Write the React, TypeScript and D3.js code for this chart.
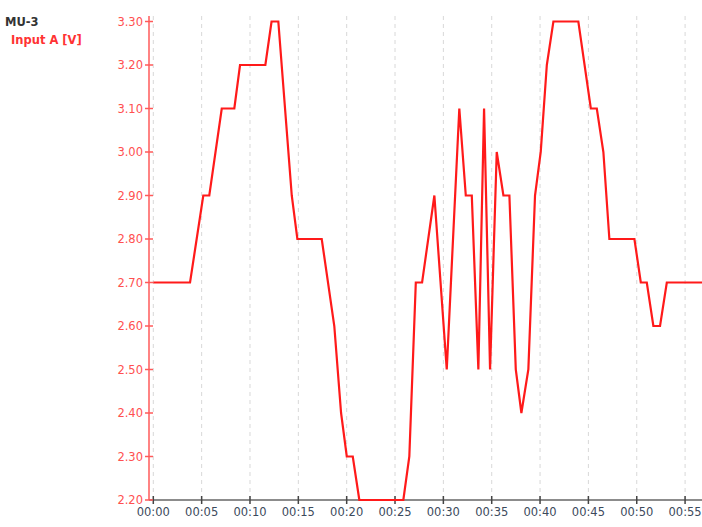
import { useEffect, useRef } from "react";
import * as d3 from "d3";

// sample times in seconds and Input A voltage
const times = [
  0, 3.8, 5.17, 5.79, 7.08, 8.38, 8.97, 11.59, 12.23, 12.93, 14.32, 14.9, 17.42,
  18.72, 19.42, 20.01, 20.63, 21.31, 25.86, 26.48, 27.15, 27.8, 29.07, 30.35,
  31.65, 32.32, 32.94, 33.62, 34.21, 34.83, 35.52, 36.21, 36.83, 37.49, 38.07,
  38.79, 39.48, 40.07, 40.7, 41.38, 43.96, 45.25, 45.87, 46.55, 47.17, 49.76,
  50.42, 51.04, 51.72, 52.41, 53.11, 57.5,
];
const volts = [
  2.7, 2.7, 2.9, 2.9, 3.1, 3.1, 3.2, 3.2, 3.3, 3.3, 2.9, 2.8, 2.8, 2.6, 2.4,
  2.3, 2.3, 2.2, 2.2, 2.3, 2.7, 2.7, 2.9, 2.5, 3.1, 2.9, 2.9, 2.5, 3.1, 2.5,
  3.0, 2.9, 2.9, 2.5, 2.4, 2.5, 2.9, 3.0, 3.2, 3.3, 3.3, 3.1, 3.1, 3.0, 2.8,
  2.8, 2.7, 2.7, 2.6, 2.6, 2.7, 2.7,
];
const yTicks = [2.2, 2.3, 2.4, 2.5, 2.6, 2.7, 2.8, 2.9, 3.0, 3.1, 3.2, 3.3];
const xTicks = [0, 5, 10, 15, 20, 25, 30, 35, 40, 45, 50, 55];

export default function App() {
  const ref = useRef<SVGSVGElement>(null);

  useEffect(() => {
    const width = 702;
    const height = 527;
    const left = 149;
    const top = 16;
    const bottom = 500;

    const svg = d3.select(ref.current);
    svg.selectAll("*").remove();

    const x = d3.scaleLinear().domain([0, 56.75]).range([153.3, width]);
    const y = d3.scaleLinear().domain([2.2, 3.3]).range([bottom, 21.5]);

    const font = "Tahoma, 'DejaVu Sans', Verdana, sans-serif";

    // title
    svg
      .append("text")
      .attr("x", 5)
      .attr("y", 26)
      .attr("font-family", font)
      .attr("font-size", 11.5)
      .attr("font-weight", "bold")
      .attr("fill", "#333")
      .text("MU-3");
    svg
      .append("text")
      .attr("x", 11)
      .attr("y", 44)
      .attr("font-family", font)
      .attr("font-size", 11.5)
      .attr("font-weight", "bold")
      .attr("fill", "#ff3333")
      .text("Input A [V]");

    // vertical grid
    svg
      .append("g")
      .selectAll("line")
      .data(xTicks)
      .enter()
      .append("line")
      .attr("x1", (d) => x(d))
      .attr("x2", (d) => x(d))
      .attr("y1", top)
      .attr("y2", bottom)
      .attr("stroke", "#d8d8d8")
      .attr("stroke-dasharray", "4,4");

    // x axis
    const xa = svg.append("g");
    xa.append("line")
      .attr("x1", left)
      .attr("x2", width)
      .attr("y1", bottom)
      .attr("y2", bottom)
      .attr("stroke", "#666")
      .attr("stroke-width", 1.5);
    xa.selectAll("line.tick")
      .data(xTicks)
      .enter()
      .append("line")
      .attr("class", "tick")
      .attr("x1", (d) => x(d))
      .attr("x2", (d) => x(d))
      .attr("y1", bottom - 4)
      .attr("y2", bottom + 4)
      .attr("stroke", "#444")
      .attr("stroke-width", 1.5);
    xa.selectAll("text")
      .data(xTicks)
      .enter()
      .append("text")
      .attr("x", (d) => x(d))
      .attr("y", bottom + 16)
      .attr("text-anchor", "middle")
      .attr("font-family", font)
      .attr("font-size", 11.5)
      .attr("fill", "#3c4a5c")
      .text((d) => "00:" + d3.format("02d")(d));

    // y axis
    const ya = svg.append("g");
    ya.append("line")
      .attr("x1", left)
      .attr("x2", left)
      .attr("y1", top)
      .attr("y2", bottom)
      .attr("stroke", "#ff5a5a")
      .attr("stroke-width", 1.5);
    ya.selectAll("line.tick")
      .data(yTicks)
      .enter()
      .append("line")
      .attr("class", "tick")
      .attr("x1", left - 4)
      .attr("x2", left + 4)
      .attr("y1", (d) => y(d))
      .attr("y2", (d) => y(d))
      .attr("stroke", "#ff5a5a")
      .attr("stroke-width", 1.5);
    ya.selectAll("text")
      .data(yTicks)
      .enter()
      .append("text")
      .attr("x", left - 6)
      .attr("y", (d) => y(d) + 4)
      .attr("text-anchor", "end")
      .attr("font-family", font)
      .attr("font-size", 11.5)
      .attr("fill", "#ff5050")
      .text((d) => d3.format(".2f")(d));

    // data line
    svg
      .append("clipPath")
      .attr("id", "plot")
      .append("rect")
      .attr("x", left + 1)
      .attr("y", 0)
      .attr("width", width - left)
      .attr("height", bottom + 1);

    const line = d3
      .line<number>()
      .x((d, i) => x(times[i]))
      .y((d) => y(d));

    svg
      .append("path")
      .attr("clip-path", "url(#plot)")
      .attr("d", line(volts))
      .attr("fill", "none")
      .attr("stroke", "#ff1a1a")
      .attr("stroke-width", 2.2)
      .attr("stroke-linejoin", "miter");
  }, []);

  return (
    <svg
      ref={ref}
      width={702}
      height={527}
      style={{ position: "absolute", left: 0, top: 0, background: "#fff" }}
    />
  );
}
